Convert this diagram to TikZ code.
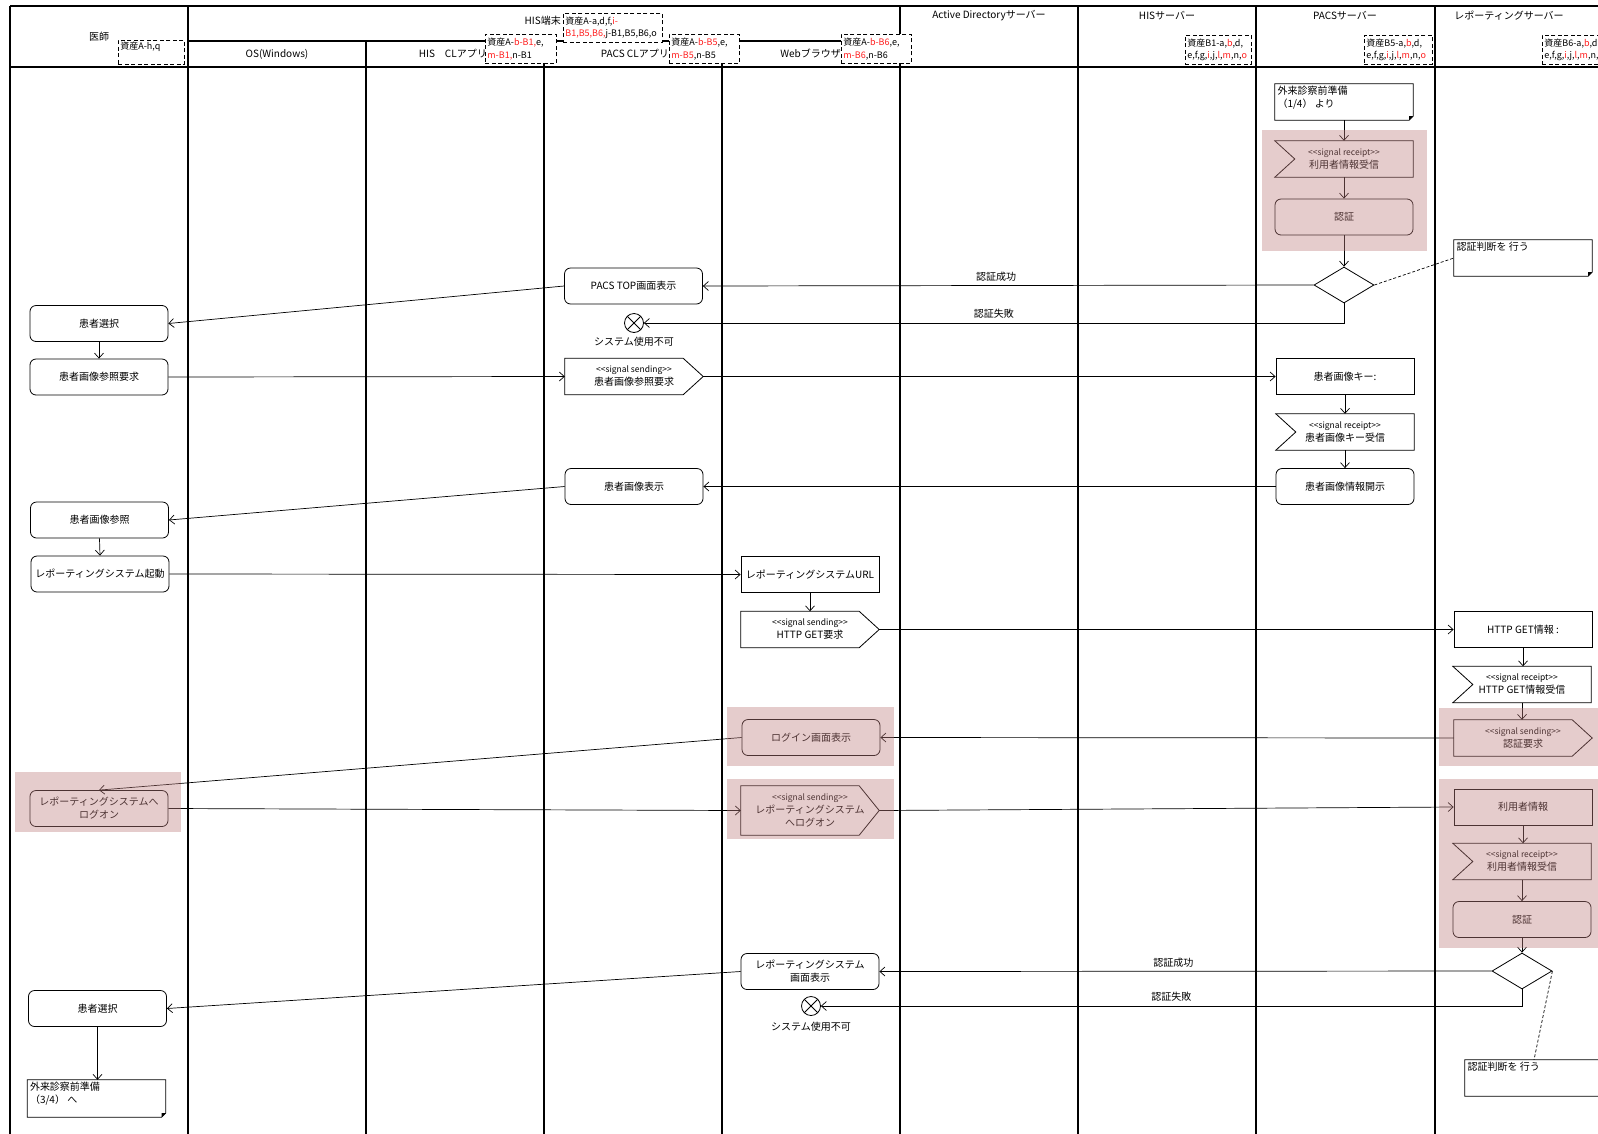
\documentclass[tikz,border=0pt]{standalone}
\usepackage{fontspec}
\setmainfont{Noto Sans CJK JP}
\usetikzlibrary{arrows.meta,shapes.geometric}
\definecolor{pinkov}{RGB}{192,128,128}
\definecolor{ared}{RGB}{255,32,32}
\newcommand{\rd}[1]{\textcolor{ared}{#1}}
\newcommand{\sigf}{\fontsize{8.5}{12}\selectfont}
\newcommand{\sgs}{{\sigf <{}<signal sending>{}>}}
\newcommand{\sgr}{{\sigf <{}<signal receipt>{}>}}
\newcommand{\senddraw}[1]{\draw[shp] (#1.north west) -- ([xshift=-20pt]#1.north east) -- (#1.east) -- ([xshift=-20pt]#1.south east) -- (#1.south west) -- cycle;}
\newcommand{\recvdraw}[1]{\draw[shp] (#1.north west) -- (#1.north east) -- (#1.south east) -- (#1.south west) -- ([xshift=20pt]#1.west) -- cycle;}
\newcommand{\notedraw}[1]{\draw[shp] (#1.north west) -- (#1.north east) -- ([yshift=4pt]#1.south east) -- ([xshift=-4pt]#1.south east) -- (#1.south west) -- cycle;
  \fill ([yshift=4pt]#1.south east) -- ([xshift=-4pt]#1.south east) -- ([xshift=-4pt,yshift=4pt]#1.south east) -- cycle;}
\begin{document}
\begin{tikzpicture}[x=1pt,y=-1pt,
 lane/.style={line width=1.7pt},
 shp/.style={draw, line width=0.8pt},
 nbox/.style={rectangle, minimum width=138pt, minimum height=36pt, inner sep=1pt, align=center, font=\fontsize{10}{13}\selectfont},
 plain/.style={nbox, draw, fill=white, line width=0.8pt},
 rnd/.style={plain, rounded corners=6pt},
 ghost/.style={nbox},
 arr/.style={line width=0.7pt, -{Straight Barb[length=5pt,width=9pt]}},
 dsh/.style={line width=0.7pt, dash pattern=on 3pt off 2pt},
 lbl/.style={font=\fontsize{10}{12}\selectfont, inner sep=1pt},
 hdr/.style={font=\fontsize{10}{12}\selectfont, inner sep=1pt},
 asset/.style={draw, dash pattern=on 4pt off 2.5pt, fill=white, line width=0.8pt, anchor=north west, inner xsep=2pt, inner ysep=1pt, align=left, minimum height=29pt, font=\fontsize{9}{12.5}\selectfont},
 dia/.style={diamond, draw, fill=white, line width=0.8pt, minimum width=60pt, minimum height=36pt, inner sep=0pt, aspect=1.667},
 xcirc/.style={circle, draw, fill=white, line width=0.8pt, minimum size=19pt, inner sep=0pt, path picture={\draw[line width=0.8pt] (path picture bounding box.north west) -- (path picture bounding box.south east) (path picture bounding box.north east) -- (path picture bounding box.south west);}},
 ovl/.style={fill=pinkov, fill opacity=0.4, draw=none},
 notetext/.style={anchor=north west, align=left, inner sep=2.5pt, font=\fontsize{10}{13}\selectfont},
]
\useasboundingbox (0,0) rectangle (1598,1133);
\fill[white] (0,0) rectangle (1598,1133);
\clip (0,0) rectangle (1598,1133);

% ---- lanes and header grid
\draw[lane] (10,6) -- (1620,6);
\draw[lane] (10,67) -- (1620,67);
\draw[lane] (188,41) -- (900,41);
\foreach \x in {10,188,900,1078,1256,1435} \draw[lane] (\x,6) -- (\x,1140);
\foreach \x in {366,544,722} \draw[lane] (\x,41) -- (\x,1140);

% ---- header texts
\node[hdr] (h0) at (99,37) {医師};
\node[hdr, anchor=east] (h1) at (562,21) {HIS端末};
\node[hdr] (h2) at (277,54) {OS(Windows)};
\node[hdr, anchor=east] (h3) at (488,54) {HIS　CLアプリ};
\node[hdr, anchor=east] (h4) at (670,54) {PACS CLアプリ};
\node[hdr, anchor=east] (h5) at (842,54) {Webブラウザ};
\node[hdr] (h6) at (989,16) {Active Directoryサーバー};
\node[hdr] (h7) at (1167,16) {HISサーバー};
\node[hdr] (h8) at (1345,16) {PACSサーバー};
\node[hdr] (h9) at (1509,16) {レポーティングサーバー};

% ---- asset boxes
\node[asset, text width=62pt, minimum height=24pt] (a0) at (118,40) {資産A-h,q\\\mbox{}};
\node[asset, text width=95pt] (a1) at (563,13) {資産A-a,d,f,\rd{i-}\\\rd{B1,B5,B6,}j-B1,B5,B6,o};
\node[asset, text width=67pt] (a2) at (485,34) {資産A-\rd{b-B1,}e,\\\rd{m-B1,}n-B1};
\node[asset, text width=66pt] (a3) at (669,34) {資産A-\rd{b-B5},e,\\\rd{m-B5},n-B5};
\node[asset, text width=66pt] (a4) at (841,34) {資産A-\rd{b-B6},e,\\\rd{m-B6},n-B6};
\node[asset, text width=62pt] (a5) at (1185,35) {資産B1-a,\rd{b},d,\\e,f,g,\rd{i},j,\rd{l},\rd{m},n,\rd{o}};
\node[asset, text width=64pt] (a6) at (1364,35) {資産B5-a,\rd{b},d,\\e,f,g,\rd{i},j,\rd{l},\rd{m},n,\rd{o}};
\node[asset, text width=66pt] (a7) at (1542,35) {資産B6-a,\rd{b},d,\\e,f,g,\rd{i},j,\rd{l},\rd{m},n,\rd{o}};

% ---- 医師 lane
\node[rnd] (p1) at (99,323.5) {患者選択};
\node[rnd] (p2) at (99,377) {患者画像参照要求};
\node[rnd] (p3) at (99.5,520) {患者画像参照};
\node[rnd] (p4) at (100,574) {レポーティングシステム起動};
\node[rnd] (p5) at (99,808.5) {レポーティングシステムへ\\ログオン};
\node[rnd] (p6) at (97.5,1008.5) {患者選択};
\node[ghost, minimum height=37pt] (n2) at (96.5,1098.5) {};
\notedraw{n2}
\node[notetext] (n2t) at (n2.north west) {外来診察前準備\\（3/4） へ};

% ---- PACS CL lane
\node[rnd] (q1) at (633.5,286) {PACS TOP画面表示};
\node[xcirc] (x1) at (634,323) {};
\node[lbl] (x1t) at (634,342) {システム使用不可};
\node[ghost] (q2) at (634,376.5) {\sgs\\患者画像参照要求};
\senddraw{q2}
\node[rnd] (q3) at (634,486.5) {患者画像表示};

% ---- Web lane
\node[plain] (w1) at (810,574.5) {レポーティングシステムURL};
\node[ghost] (w2) at (810,629.5) {\sgs\\HTTP GET要求};
\senddraw{w2}
\node[rnd] (w3) at (811,737.5) {ログイン画面表示};
\node[ghost, minimum height=49pt] (w4) at (810,810.5) {\sgs\\レポーティングシステム\\へログオン};
\senddraw{w4}
\node[rnd] (w5) at (810,971.5) {レポーティングシステム\\画面表示};
\node[xcirc] (x2) at (811,1006) {};
\node[lbl] (x2t) at (811,1027) {システム使用不可};

% ---- PACS server lane
\node[ghost] (s0) at (1344,102) {};
\notedraw{s0}
\node[notetext] (s0t) at (s0.north west) {外来診察前準備\\（1/4） より};
\node[ghost] (s1) at (1344,159) {\sgr\\利用者情報受信};
\recvdraw{s1}
\node[rnd] (s2) at (1344,217) {認証};
\node[dia] (d1) at (1344,285) {};
\node[ghost] (s3) at (1523,258) {};
\notedraw{s3}
\node[notetext] (s3t) at (s3.north west) {認証判断を 行う};
\node[plain] (s4) at (1345,376.5) {患者画像キー:};
\node[ghost] (s5) at (1345,432) {\sgr\\患者画像キー受信};
\recvdraw{s5}
\node[rnd] (s6) at (1345,486.5) {患者画像情報開示};

% ---- Reporting server lane
\node[plain] (r1) at (1523,629.5) {HTTP GET情報 :};
\node[ghost] (r2) at (1522,684.5) {\sgr\\HTTP GET情報受信};
\recvdraw{r2}
\node[ghost] (r3) at (1523,738) {\sgs\\認証要求};
\senddraw{r3}
\node[plain] (r4) at (1523,807) {利用者情報};
\node[ghost] (r5) at (1522,861.5) {\sgr\\利用者情報受信};
\recvdraw{r5}
\node[rnd] (r6) at (1522,919.5) {認証};
\node[dia] (d2) at (1522,971) {};
\node[ghost] (r7) at (1534,1078) {};
\notedraw{r7}
\node[notetext] (r7t) at (r7.north west) {認証判断を 行う};

% ---- connectors
\draw[arr] (s0.south) -- (s1.north);
\draw[arr] (s1.south) -- (s2.north);
\draw[arr] (s2.south) -- (d1.north);
\draw[arr] (d1.west) -- node[lbl, above=3pt, pos=0.52] (l1) {認証成功} (q1.east);
\draw[arr] (d1.south) |- node[lbl, above=3pt, pos=0.75] (l2) {認証失敗} (x1.east);
\draw[dsh] (d1.east) -- (s3.west);
\draw[arr] (q1.west) -- (p1.east);
\draw[arr] (p1.south) -- (p2.north);
\draw[arr] (p2.east) -- (q2.west);
\draw[arr] (q2.east) -- (s4.west);
\draw[arr] (s4.south) -- (s5.north);
\draw[arr] (s5.south) -- (s6.north);
\draw[arr] (s6.west) -- (q3.east);
\draw[arr] (q3.west) -- (p3.east);
\draw[arr] (p3.south) -- (p4.north);
\draw[arr] (p4.east) -- (w1.west);
\draw[arr] (w1.south) -- (w2.north);
\draw[arr] (w2.east) -- (r1.west);
\draw[arr] (r1.south) -- (r1.south |- r2.north);
\draw[arr] (r2.south) -- (r2.south |- r3.north);
\draw[arr] (r3.west) -- (w3.east);
\draw[arr] (w3.west) -- (p5.north);
\draw[arr] (p5.east) -- (w4.west);
\draw[arr] (w4.east) -- (r4.west);
\draw[arr] (r4.south) -- (r4.south |- r5.north);
\draw[arr] (r5.south) -- (r6.north);
\draw[arr] (r6.south) -- (d2.north);
\draw[arr] (d2.west) -- node[lbl, above=3pt, pos=0.52] (l3) {認証成功} (w5.east);
\draw[arr] (d2.south) |- node[lbl, above=3pt, pos=0.75] (l4) {認証失敗} (x2.east);
\draw[dsh] (d2.east) -- (r7.north);
\draw[arr] (w5.west) -- (p6.east);
\draw[arr] (p6.south) -- (p6.south |- n2.north);

% ---- pink highlight overlays
\fill[ovl] (1262,130) rectangle (1427,251);
\fill[ovl] (727,707) rectangle (894,766);
\fill[ovl] (15,772) rectangle (181,832);
\fill[ovl] (727,779) rectangle (894,839);
\fill[ovl] (1439,708) rectangle (1610,766);
\fill[ovl] (1439,779) rectangle (1610,948);
\end{tikzpicture}
\end{document}
